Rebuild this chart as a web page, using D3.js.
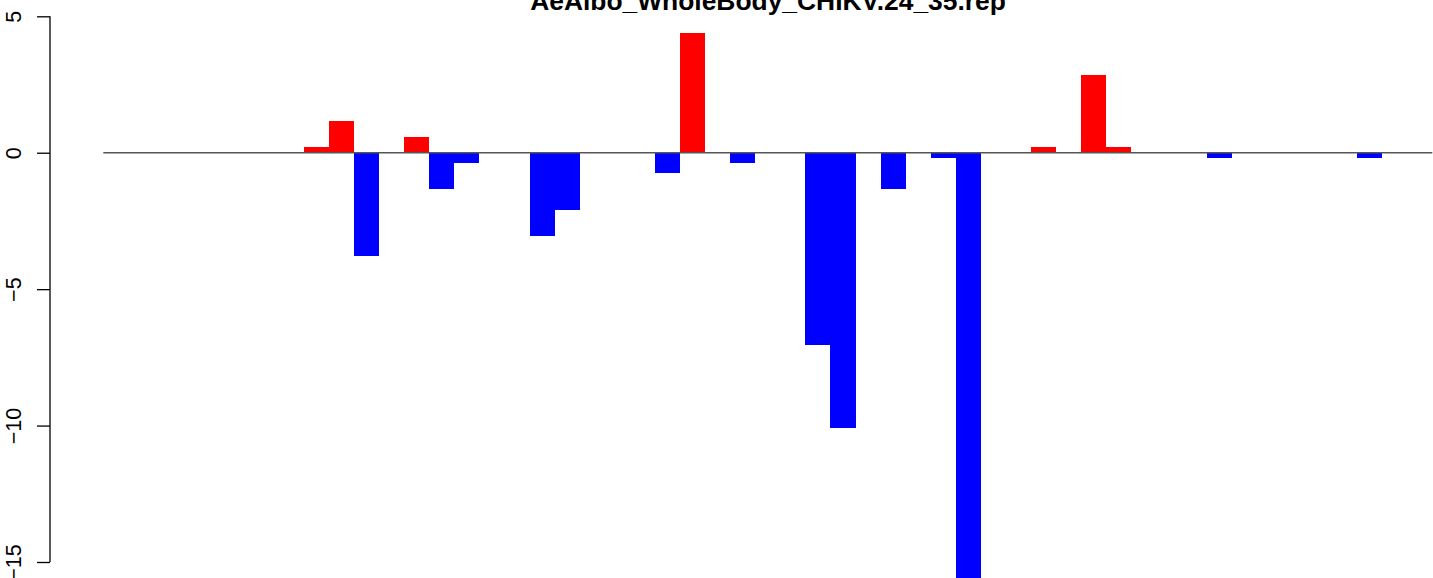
<!DOCTYPE html>
<html>
<head>
<meta charset="utf-8">
<script src="https://cdn.jsdelivr.net/npm/d3@7"></script>
<style>
  html, body { margin: 0; padding: 0; background: #fff; }
  svg { display: block; }
</style>
</head>
<body>
<svg id="chart" width="1433" height="578"></svg>
<script>
// ---- data ----
const title = "AeAlbo_WholeBody_CHIKV.24_35.rep";
const slotCount = 53;
const categories = d3.range(1, slotCount + 1).map(String);
const barSlots  = [8, 9, 10, 12, 13, 14, 17, 18, 22, 23, 25, 28, 29, 31, 33, 34, 37, 39, 40, 44, 50];
const barValues = [0.2, 1.15, -3.8, 0.57, -1.34, -0.38, -3.04, -2.09, -0.75, 4.37, -0.38, -7.04, -10.08, -1.34, -0.2, -16, 0.2, 2.84, 0.2, -0.2, -0.2];
const values = categories.map((c, i) => {
  const k = barSlots.indexOf(i);
  return k >= 0 ? barValues[k] : 0;
});
const yTicks = [5, 0, -5, -10, -15];

// ---- layout ----
const svg = d3.select("#chart");
const x = d3.scaleBand().domain(categories).range([103.3, 1432.3]).padding(0);
const y = d3.scaleLinear().domain([-15, 5]).range([562, 16.3]);

// bars
svg.append("g").selectAll("rect")
  .data(categories.map((c, i) => ({ c, v: values[i] })).filter(d => d.v !== 0))
  .join("rect")
  .attr("x", d => x(d.c))
  .attr("width", x.bandwidth())
  .attr("y", d => Math.min(y(0), y(d.v)))
  .attr("height", d => Math.abs(y(d.v) - y(0)))
  .attr("fill", d => d.v > 0 ? "#ff0000" : "#0000ff")
  .attr("shape-rendering", "crispEdges");

// zero line
svg.append("line")
  .attr("x1", x.range()[0]).attr("x2", x.range()[1])
  .attr("y1", y(0)).attr("y2", y(0))
  .attr("stroke", "#555").attr("stroke-width", 1.3);

// y axis
const axisG = svg.append("g").attr("transform", "translate(50,0)");
axisG.call(d3.axisLeft(y).tickValues(yTicks).tickSize(13).tickFormat(d => d < 0 ? "\u2212" + Math.abs(d) : String(d)));
axisG.select(".domain").attr("stroke", "#000").attr("stroke-width", 1.3)
  .attr("d", `M0,${y(5)}V${y(-15)}`);
axisG.selectAll(".tick line").attr("stroke", "#000").attr("stroke-width", 1.3);
axisG.selectAll(".tick text")
  .attr("font-family", "Liberation Sans, Arial, sans-serif")
  .attr("font-size", 21.5)
  .attr("fill", "#000")
  .attr("text-anchor", "middle")
  .attr("dy", null)
  .attr("x", null)
  .attr("transform", "translate(-29,0) rotate(-90)");

// title
svg.append("text")
  .attr("x", 768).attr("y", 10)
  .attr("text-anchor", "middle")
  .attr("font-family", "Liberation Sans, Arial, sans-serif")
  .attr("font-weight", "bold")
  .attr("font-size", 26.4)
  .attr("fill", "#000")
  .text(title);
</script>
</body>
</html>
